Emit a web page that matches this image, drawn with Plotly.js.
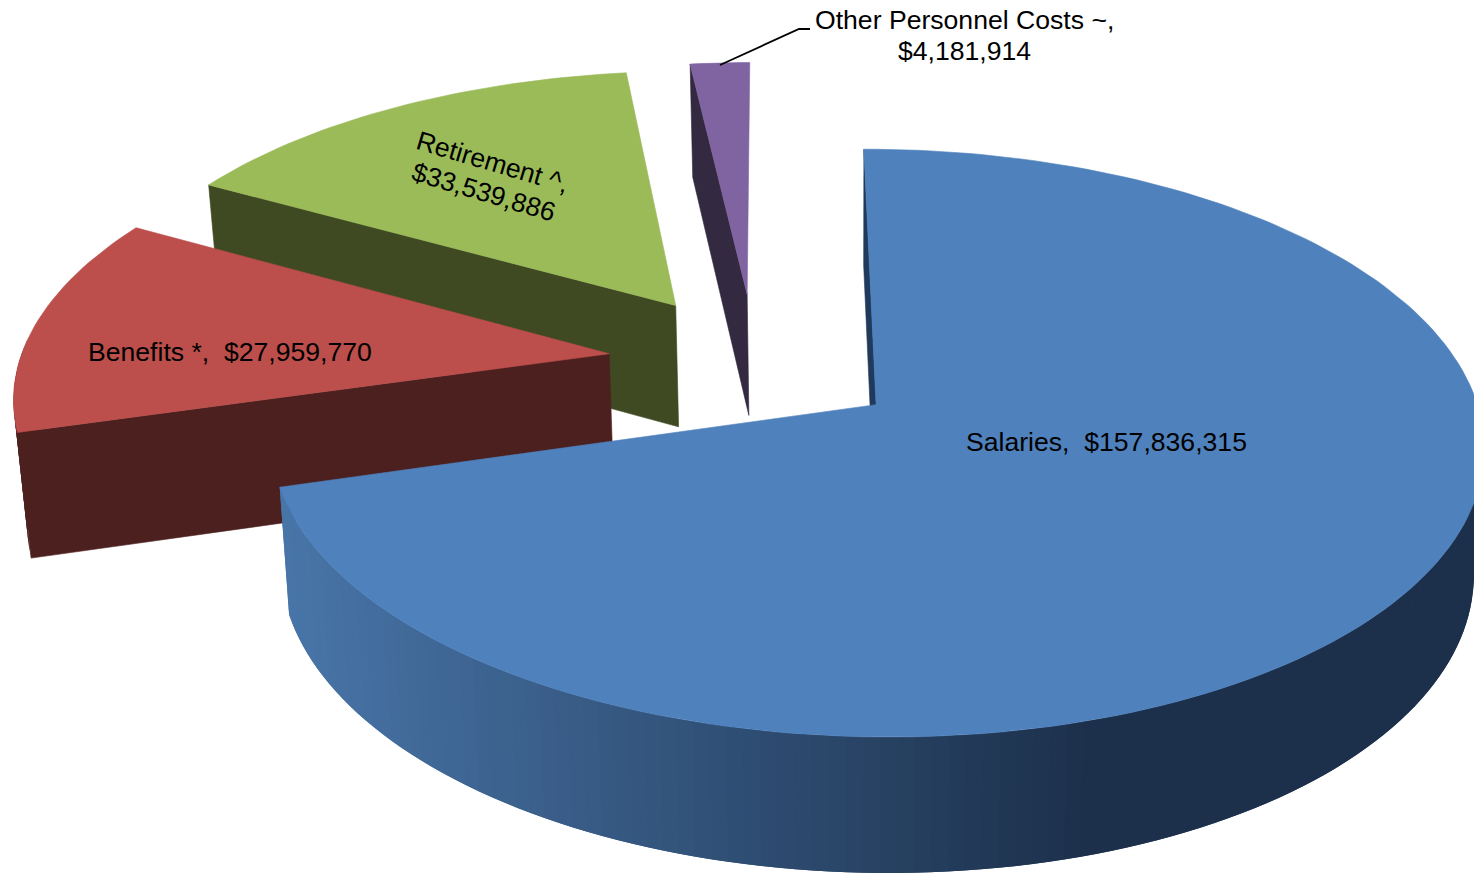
<!DOCTYPE html>
<html><head><meta charset="utf-8">
<script src="https://cdn.plot.ly/plotly-3.0.1.min.js"></script>
<style>html,body{margin:0;padding:0;background:#fff;overflow:hidden}#c{width:1474px;height:874px}</style>
</head><body><div id="c"></div>
<script>
const categories = ["Salaries", "Benefits *", "Retirement ^", "Other Personnel Costs ~"];
const amounts = [157836315, 27959770, 33539886, 4181914];
const explosions = [0.253, 0.25, 0.25, 0.25];
const topColors = ["#4f81bd", "#bc4e4b", "#9bbb59", "#8064a2"];
const wallColors = ["#1f3a5c", "#4c201e", "#3f4a22", "#332940"];

// 3D pie camera: pie plane (u right, v away) projected with perspective
const W = 1474, H = 874;
const cam = {cx: 873, cy: 407, rx: 602, ry: 289.5, k: 0.131, a: -11.3};
const pieCentre = {u: -0.197, v: 0.16};
const firstAngle = -0.2 * Math.PI / 180;
function project(u, v) {
  const d = 1 + cam.k * v;
  return [cam.cx + (cam.rx * u + cam.a * v) / d, cam.cy - cam.ry * v / d];
}
function extrude(p) {
  return [p[0] - 0.0165 * (p[0] - 850), p[1] + 116 + 0.034 * (p[1] - 149)];
}
const total = amounts.reduce((a, b) => a + b, 0);
const traces = [];
function poly(pts, color, noStroke) {
  const xs = pts.map(p => p[0]).concat(pts[0][0]);
  const ys = pts.map(p => p[1]).concat(pts[0][1]);
  traces.push({type: "scatter", mode: "lines", x: xs, y: ys, fill: "toself", fillcolor: color,
    line: {color: color, width: noStroke ? 0 : 0.6}, hoverinfo: "skip", showlegend: false});
}
function hex(c) { return [1, 3, 5].map(i => parseInt(c.substr(i, 2), 16)); }
function rimColor(x) {
  const t = Math.min(1, Math.max(0, (x - 280) / (1090 - 280)));
  const a = hex("#4875a8"), b = hex("#1c304b");
  return "rgb(" + a.map((v, i) => Math.round(v + (b[i] - v) * t)).join(",") + ")";
}
const slices = [];
let acc = 0;
amounts.forEach((val, i) => {
  const a0 = firstAngle + acc / total * 2 * Math.PI;
  acc += val;
  const a1 = firstAngle + acc / total * 2 * Math.PI;
  const mid = (a0 + a1) / 2;
  slices.push({i, a0, a1,
    ou: pieCentre.u + explosions[i] * Math.sin(mid),
    ov: pieCentre.v + explosions[i] * Math.cos(mid)});
});
function arc(s, n) {
  const out = [];
  for (let j = 0; j <= n; j++) {
    const t = s.a0 + (s.a1 - s.a0) * j / n;
    out.push(project(s.ou + Math.sin(t), s.ov + Math.cos(t)));
  }
  return out;
}
// back-to-front painter's order
[3, 2, 1, 0].forEach(idx => {
  const s = slices[idx];
  const n = Math.max(6, Math.round((s.a1 - s.a0) * 40));
  const rim = arc(s, n);
  const apex = project(s.ou, s.ov);
  const wall = wallColors[idx];
  poly([rim[0], apex, extrude(apex), extrude(rim[0])], wall);
  for (let j = 0; j < n; j++) {
    const t = s.a0 + (s.a1 - s.a0) * (j + 0.5) / n;
    if (Math.cos(t) > 0.02) continue;          // back-facing rim is hidden
    const e = Math.min(j + 2, n);              // overlap neighbours to avoid seams
    const q = [rim[j], rim[j + 1], rim[e], extrude(rim[e]), extrude(rim[j + 1]), extrude(rim[j])];
    poly(q, idx === 0 ? rimColor((rim[j][0] + rim[j + 1][0]) / 2) : wall, true);
  }
  poly([apex].concat(rim), topColors[idx]);
});
// leader line for the smallest slice
traces.push({type: "scatter", mode: "lines", x: [720, 799, 810], y: [65, 29, 29],
  line: {color: "#000", width: 1.8}, hoverinfo: "skip", showlegend: false});

const money = v => "$" + v.toLocaleString("en-US");
const font = {family: "Arial, 'Liberation Sans', sans-serif", size: 26.6, color: "#000"};
const ann = (text, x, y, angle) => ({text, x, y, xref: "x", yref: "y", showarrow: false,
  textangle: angle, font, align: "center", xanchor: "center", yanchor: "middle"});
const annotations = [
  ann(categories[0] + ",\u00a0 " + money(amounts[0]), 1106.5, 442, 0),
  ann(categories[1] + ",\u00a0 " + money(amounts[1]), 230, 352, 0),
  ann(categories[2] + ",", 492, 162, 16.5),
  ann(money(amounts[2]), 483.5, 191.5, 16.5),
  ann(categories[3] + ",", 964, 20, 0),
  ann(money(amounts[3]), 964, 51, 0)
];
Plotly.newPlot("c", traces, {
  width: W, height: H, margin: {l: 0, r: 0, t: 0, b: 0},
  paper_bgcolor: "#fff", plot_bgcolor: "#fff", showlegend: false,
  xaxis: {range: [0, W], visible: false, fixedrange: true},
  yaxis: {range: [H, 0], visible: false, fixedrange: true},
  annotations
}, {staticPlot: true, displayModeBar: false});
</script></body></html>
